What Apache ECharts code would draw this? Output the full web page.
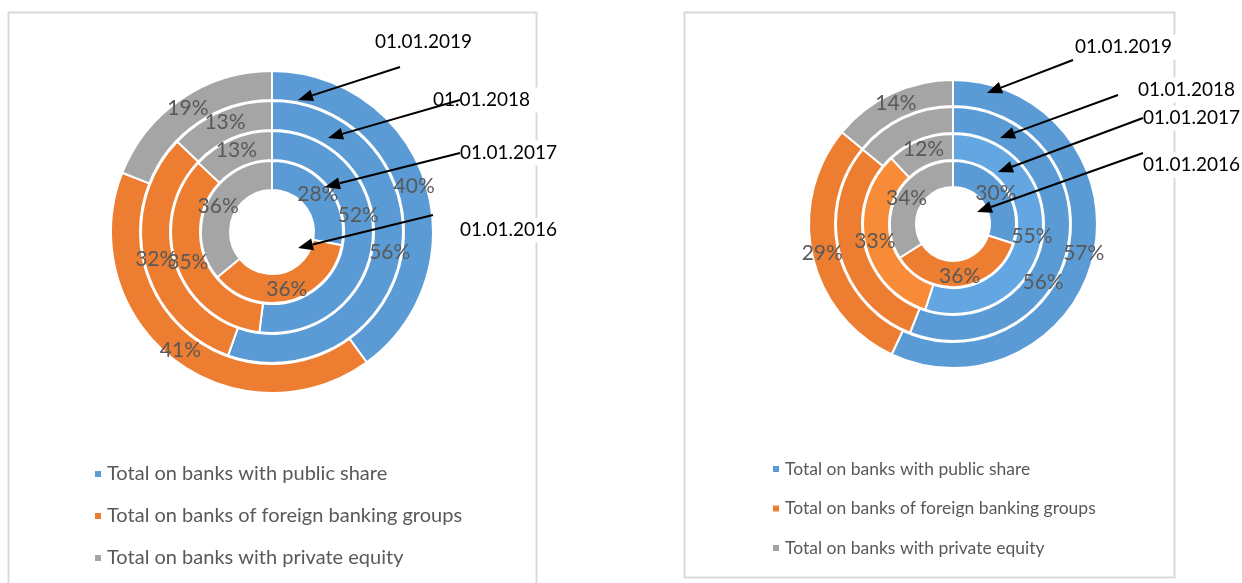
<!DOCTYPE html>
<html>
<head>
<meta charset="utf-8">
<style>
html,body{margin:0;padding:0;background:#fff;}
#chart{width:1242px;height:583px;}
</style>
<script src="https://cdn.jsdelivr.net/npm/echarts@6/dist/echarts.min.js"></script>
</head>
<body>
<div id="chart"></div>
<script type="text/javascript">
// categories and dates
var categories = ['Total on banks with public share', 'Total on banks of foreign banking groups', 'Total on banks with private equity'];
var dates = ['01.01.2016', '01.01.2017', '01.01.2018', '01.01.2019'];

// left chart, inner ring to outer ring (%)
var left2016 = [28, 36, 36];
var left2017 = [52, 35, 13];
var left2018 = [56, 32, 13];
var left2019 = [40, 41, 19];

// right chart, inner ring to outer ring (%)
var right2016 = [30, 36, 34];
var right2017 = [55, 33, 12];
var right2018 = [56, 30, 14];
var right2019 = [57, 29, 14];

(function() {
    var myChart = echarts.init(document.getElementById('chart'));
    var colors = ['#5B9BD5', '#ED7D31', '#A5A5A5'];
    var lightColors = ['#63A6E1', '#F88B38', '#A5A5A5'];
    var font = 'Lato, "Liberation Sans", sans-serif';

    // labels that were dragged by hand in the original: [dx, dy] for the first slice
    function ring(name, values, center, radius, cols, onlyFirstLabel, moveFirst) {
        var data = [];
        for (var i = 0; i < values.length; i++) {
            data.push({
                name: categories[i],
                value: values[i],
                itemStyle: {color: cols[i]},
                label: {show: !onlyFirstLabel || i == 0}
            });
        }
        return {
            name: name,
            type: 'pie',
            center: center,
            radius: radius,
            startAngle: 90,
            clockwise: true,
            avoidLabelOverlap: false,
            minShowLabelAngle: 0,
            silent: true,
            itemStyle: {borderColor: '#fff', borderWidth: 2},
            label: {
                position: 'inside',
                formatter: '{c}%',
                color: '#595959',
                fontSize: 21,
                fontFamily: font
            },
            labelLayout: function(params) {
                if (moveFirst && params.dataIndex == 0) {
                    return {hideOverlap: false, dx: moveFirst[0], dy: moveFirst[1]};
                }
                return {hideOverlap: false};
            },
            labelLine: {show: false},
            emphasis: {scale: false},
            data: data
        };
    }

    var lc = [272, 232], rc = [953, 224];
    var series = [
        ring(dates[0], left2016, lc, [42, 71], colors),
        ring(dates[1], left2017, lc, [72, 101], colors, false, [-3, -22]),
        ring(dates[2], left2018, lc, [102, 131], colors),
        ring(dates[3], left2019, lc, [132, 161], colors),
        ring(dates[0], right2016, rc, [37, 63], colors),
        ring(dates[1], right2017, rc, [64, 90], lightColors),
        ring(dates[2], right2018, rc, [91, 117], colors, true, [-15, 38]),
        ring(dates[3], right2019, rc, [118, 144], colors)
    ];

    // arrows: [x1, y1, x2, y2] (tail -> tip)
    var arrows = [
        [400, 67, 298, 100], [460, 100, 328, 138], [460, 153, 325, 187], [433, 215, 298, 248],
        [1073, 60, 987, 93], [1118, 95, 1000, 138], [1143, 118, 998, 172], [1143, 153, 977, 212]
    ];
    // date texts: [x, y, date index]
    var notes = [
        [375, 42, 3], [433, 100, 2], [460, 153, 1], [460, 230, 0],
        [1075, 47, 3], [1138, 90, 2], [1143, 118, 1], [1143, 165, 0]
    ];

    var graphic = [
        {type: 'rect', shape: {x: 8.5, y: 12.5, width: 528, height: 620}, style: {fill: 'none', stroke: '#D9D9D9', lineWidth: 2}, z: 0},
        {type: 'rect', shape: {x: 684.5, y: 12.5, width: 490, height: 565}, style: {fill: 'none', stroke: '#D9D9D9', lineWidth: 2}, z: 0}
    ];
    for (var i = 0; i < notes.length; i++) {
        graphic.push({
            type: 'text', x: notes[i][0], y: notes[i][1], z: 5,
            style: {
                text: dates[notes[i][2]], fill: '#000', font: '19px ' + font,
                verticalAlign: 'middle', backgroundColor: '#fff', padding: [3, 8, 3, 0]
            }
        });
    }
    for (var j = 0; j < arrows.length; j++) {
        var a = arrows[j];
        var dx = a[2] - a[0], dy = a[3] - a[1];
        var len = Math.sqrt(dx * dx + dy * dy);
        var ux = dx / len, uy = dy / len;
        var bx = a[2] - ux * 15, by = a[3] - uy * 15;
        graphic.push({
            type: 'line', z: 10,
            shape: {x1: a[0], y1: a[1], x2: bx, y2: by},
            style: {stroke: '#000', lineWidth: 2}
        });
        graphic.push({
            type: 'polygon', z: 10,
            shape: {points: [[a[2], a[3]], [bx - uy * 6, by + ux * 6], [bx + uy * 6, by - ux * 6]]},
            style: {fill: '#000'}
        });
    }

    var option = {
        animation: false,
        color: colors,
        legend: [
            {
                orient: 'vertical', left: 88, top: 459, itemGap: 22,
                itemWidth: 8, itemHeight: 8, icon: 'rect', selectedMode: false,
                textStyle: {color: '#595959', fontSize: 20, fontFamily: font},
                data: categories
            },
            {
                orient: 'vertical', left: 766, top: 455, itemGap: 21.5,
                itemWidth: 8, itemHeight: 8, icon: 'rect', selectedMode: false,
                textStyle: {color: '#595959', fontSize: 17.5, fontFamily: font},
                data: categories
            }
        ],
        series: series,
        graphic: graphic
    };
    myChart.setOption(option);
})();
</script>
</body>
</html>
